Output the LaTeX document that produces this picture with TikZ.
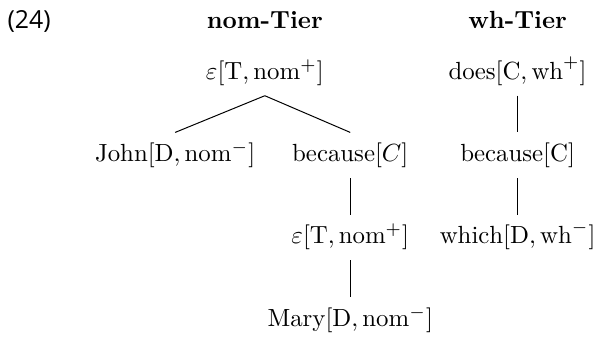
\documentclass[tikz,border=0pt]{standalone}
\usepackage{amsmath,amssymb}
\usepackage{fontspec}
\newfontfamily\exfont{Open Sans}
\usepackage{tikz}
\usetikzlibrary{positioning}

\begin{document}
\begin{tikzpicture}[
  node distance=0.52cm,
  lab/.style={inner xsep=1pt, inner ysep=4pt, text height=7.5pt, text depth=2.5pt},
  tier/.style={font=\bfseries, anchor=base}
]
\useasboundingbox (0,0) rectangle (8.44,-4.80);
\node[anchor=base west, inner sep=0pt, font=\exfont] (exnum) at (0.10,-0.41) {(24)};
\node[tier] (nomtier) at (3.75,-0.41) {nom-Tier};
\node[tier] (whtier) at (7.33,-0.41) {wh-Tier};

% nom tier
\node[lab, anchor=base] (nomT) at (3.75,-1.12) {$\varepsilon[\mathrm{T},\mathrm{nom}^+]$};
\node[lab, below=of nomT, xshift=-1.27cm] (john) {$\mathrm{John}[\mathrm{D},\mathrm{nom}^-]$};
\node[lab, below=of nomT, xshift=1.21cm] (becC) {$\mathrm{because}[C]$};
\node[lab, below=of becC] (embT) {$\varepsilon[\mathrm{T},\mathrm{nom}^+]$};
\node[lab, below=of embT] (mary) {$\mathrm{Mary}[\mathrm{D},\mathrm{nom}^-]$};

% wh tier
\node[lab, anchor=base] (does) at (7.33,-1.12) {$\mathrm{does}[\mathrm{C},\mathrm{wh}^+]$};
\node[lab, below=of does] (whbec) {$\mathrm{because}[\mathrm{C}]$};
\node[lab, below=of whbec] (which) {$\mathrm{which}[\mathrm{D},\mathrm{wh}^-]$};

\draw (nomT.south) -- (john.north);
\draw (nomT.south) -- (becC.north);
\draw (becC) -- (embT);
\draw (embT) -- (mary);
\draw (does) -- (whbec);
\draw (whbec) -- (which);
\end{tikzpicture}
\end{document}
